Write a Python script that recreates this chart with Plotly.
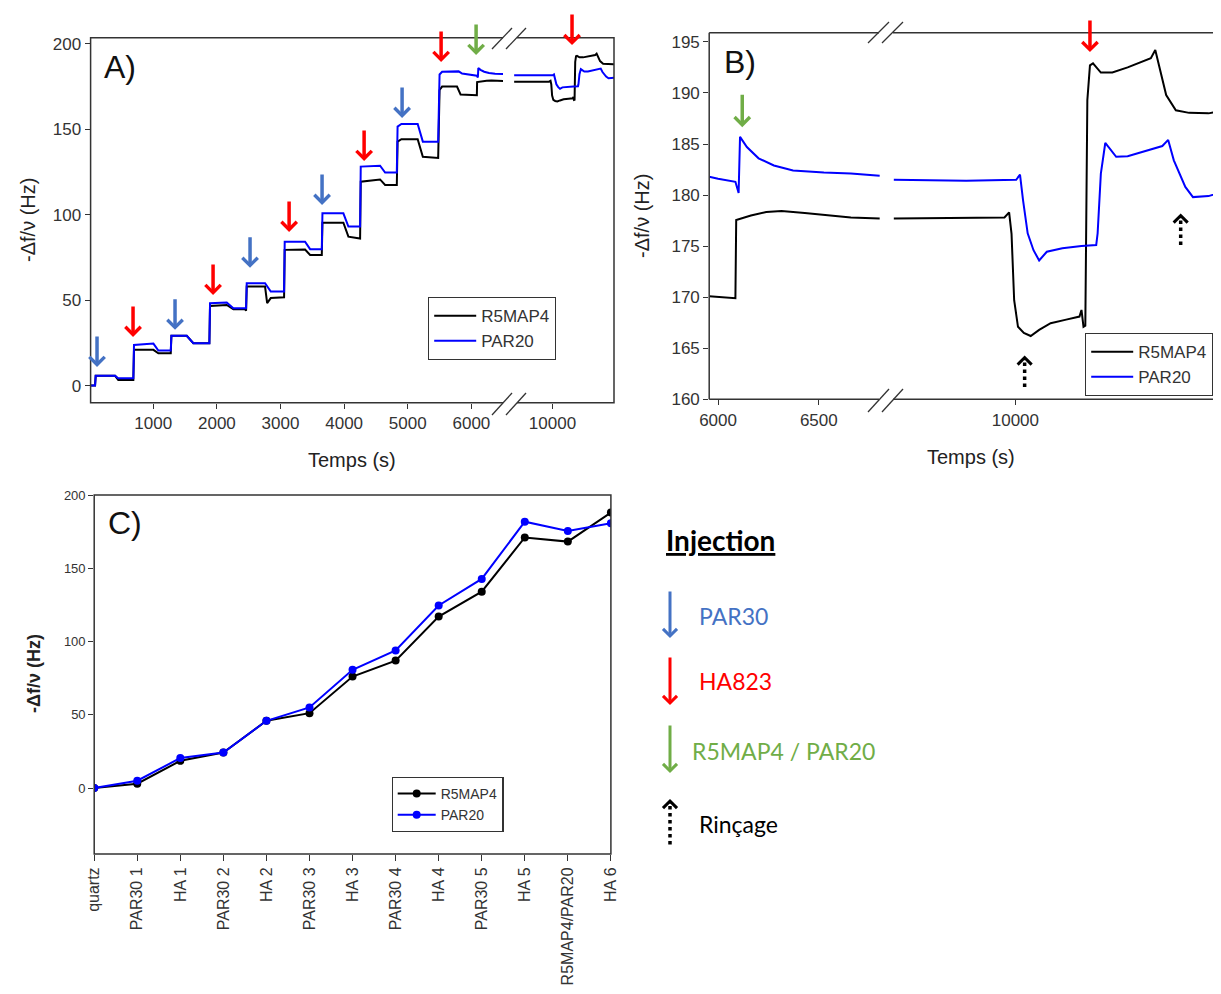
import plotly.graph_objects as go

# ---------------- DATA ----------------
# Panel A, adsorption steps (time in s, -Δf/ν in Hz)
early_t_black = [15, 85, 95, 400, 450, 687, 697, 1002, 1080, 1275, 1285, 1526, 1630, 1882, 1892, 2155, 2259, 2440, 2459, 2469,
                 2757, 2790, 2847, 3056, 3066, 3386, 3465, 3649, 3659, 3988, 4067, 4251, 4261, 4565, 4644, 4828, 4840, 4900,
                 5156, 5237, 5478, 5500, 5540, 5774, 5830, 5950]
early_v_black = [0, 0, 5.7, 5.7, 3.3, 3.3, 20.9, 20.9, 18.9, 18.9, 29.1, 29.1, 24.8, 24.8, 46.6, 47.2, 44.7, 44.7, 43.8, 57.9,
                 57.9, 48.2, 51.2, 51.7, 79.4, 79.6, 76.4, 76.4, 95.3, 95.3, 87.1, 86.0, 119.3, 120.6, 117.4, 117.4, 142.7, 144.1,
                 144.1, 133.9, 133.2, 172.9, 174.9, 174.9, 170.3, 170.2]
early_t_blue = [15, 85, 95, 400, 450, 687, 697, 1002, 1080, 1275, 1285, 1526, 1630, 1882, 1892, 2155, 2259, 2459, 2469, 2757,
                2847, 3056, 3066, 3386, 3465, 3649, 3659, 3988, 4067, 4251, 4261, 4565, 4644, 4828, 4840, 4900, 5156, 5237,
                5478, 5500, 5540, 5800, 5854, 5950]
early_v_blue = [0, 0, 5.7, 5.7, 4.3, 4.3, 23.8, 24.6, 20.5, 20.5, 29.1, 29.1, 24.8, 24.8, 48.2, 48.6, 45.3, 45.3, 59.9, 59.9,
                55.0, 55.0, 84.2, 84.2, 79.8, 79.8, 100.8, 100.8, 93.0, 93.0, 128.1, 128.6, 124.6, 124.6, 151.5, 153.0, 153.0, 142.7,
                142.7, 182.0, 183.6, 183.8, 182.5, 181.9]

# R5MAP4 / PAR20 injection (6000-6800 s)
inj_t_black = [5956, 6086, 6090, 6163, 6239, 6315, 6430, 6563, 6659, 6802]
inj_v_black = [170.1, 169.9, 177.55, 178.0, 178.35, 178.45, 178.25, 177.95, 177.8, 177.7]
inj_t_blue = [5956, 6000, 6086, 6102, 6109, 6143, 6201, 6277, 6372, 6525, 6659, 6802]
inj_v_blue = [181.8, 181.6, 181.3, 180.2, 185.7, 184.7, 183.6, 182.9, 182.4, 182.2, 182.1, 181.9]

# late part (after the axis break)
late_t_black = [9397, 9946, 9969, 9981, 9994, 10013, 10042, 10076, 10118, 10175, 10252, 10318, 10328, 10338, 10347, 10357,
                10370, 10385, 10424, 10481, 10557, 10672, 10694, 10719, 10748, 10796, 10862, 10958, 11030]
late_v_black = [177.7, 177.8, 178.3, 176.2, 169.7, 167.1, 166.5, 166.2, 166.8, 167.45, 167.8, 168.1, 168.75, 167.1, 167.2, 189.3,
                192.7, 192.9, 192.0, 192.0, 192.5, 193.4, 194.2, 192.2, 189.8, 188.3, 188.05, 188.0, 188.25]
late_t_blue = [9397, 9756, 10004, 10023, 10038, 10061, 10090, 10118, 10156, 10233, 10328, 10401, 10408, 10424, 10446, 10462,
               10500, 10557, 10634, 10729, 10758, 10786, 10843, 10881, 10958, 11030]
late_v_blue = [181.5, 181.4, 181.5, 182.0, 179.5, 176.25, 174.6, 173.6, 174.45, 174.8, 175.0, 175.1, 176.25, 182.1, 185.1, 184.7,
               183.75, 183.8, 184.25, 184.8, 185.4, 183.4, 180.8, 179.8, 179.9, 180.3]

# Panel C
c_categories = ["quartz", "PAR30 1", "HA 1", "PAR30 2", "HA 2", "PAR30 3", "HA 3", "PAR30 4", "HA 4", "PAR30 5", "HA 5",
                "R5MAP4/PAR20", "HA 6"]
c_black = [0, 3, 18.6, 24.3, 45.9, 51.1, 76.1, 87, 117, 134, 171, 168.2, 188]
c_blue = [0, 5, 20.5, 24.3, 45.9, 55, 80.7, 93.9, 124.6, 142.7, 181.8, 175.5, 180.7]

# injection arrows in panel A (time, tip value)
a_par30_t = [116, 1342, 2521, 3653, 4911]
a_par30_y = [10.9, 32.6, 68.9, 105.7, 156.6]
a_ha_t = [682, 1940, 3135, 4314, 5524]
a_ha_y = [28.5, 53, 89.9, 131.4, 189.3]
a_ha_late_t = [10307]
a_ha_late_y = [199.2]
a_r5_t = [6074]
a_r5_y = [193.4]
# panel B arrows
b_r5_t, b_r5_y = [6120], [186.65]
b_ha_t, b_ha_y = [10370], [194.0]
b_rinse_t = [10046, 10820]
b_rinse_y = [164.3, 178.2]

# ---------------- STYLE ----------------
W, H = 1221, 994
OFF = 8  # page body margin of the html document
def X(px): return (px - OFF) / W
def Y(py): return 1 - (py - OFF) / H

FONT = "Arial, 'Liberation Sans', sans-serif"
BLACK = "#000000"
BLUE = "#0000FF"
C_PAR30 = "#4472C4"
C_HA = "#FF0000"
C_R5 = "#70AD47"
AX = "#333333"

fig = go.Figure()

def line(x, y, xa, ya, color, name, legend, show):
    fig.add_trace(go.Scatter(x=x, y=y, xaxis=xa, yaxis=ya, mode="lines", name=name,
                             line=dict(color=color, width=2), legend=legend, showlegend=show))

# Panel A
line(early_t_black + inj_t_black, early_v_black + inj_v_black, "x", "y", BLACK, "R5MAP4", "legend", True)
line(early_t_blue + inj_t_blue, early_v_blue + inj_v_blue, "x", "y", BLUE, "PAR20", "legend", True)
line(late_t_black, late_v_black, "x2", "y", BLACK, "R5MAP4", "legend", False)
line(late_t_blue, late_v_blue, "x2", "y", BLUE, "PAR20", "legend", False)
# Panel B
line(inj_t_black, inj_v_black, "x3", "y2", BLACK, "R5MAP4", "legend2", True)
line(inj_t_blue, inj_v_blue, "x3", "y2", BLUE, "PAR20", "legend2", True)
line(late_t_black, late_v_black, "x4", "y2", BLACK, "R5MAP4", "legend2", False)
line(late_t_blue, late_v_blue, "x4", "y2", BLUE, "PAR20", "legend2", False)
# Panel C
fig.add_trace(go.Scatter(x=c_categories, y=c_black, xaxis="x5", yaxis="y3", mode="lines+markers", name="R5MAP4",
                         line=dict(color=BLACK, width=2), marker=dict(color=BLACK, size=8), legend="legend3"))
fig.add_trace(go.Scatter(x=c_categories, y=c_blue, xaxis="x5", yaxis="y3", mode="lines+markers", name="PAR20",
                         line=dict(color=BLUE, width=2), marker=dict(color=BLUE, size=8), legend="legend3"))

common = dict(showgrid=False, zeroline=False, showline=False, automargin=False, ticks="outside", ticklen=5,
              tickwidth=1.2, tickcolor=AX, tickformat="d", tickfont=dict(family=FONT, size=17, color=AX))

fig.update_layout(
    width=W, height=H, margin=dict(l=0, r=0, t=0, b=0, pad=0, autoexpand=False),
    paper_bgcolor="white", plot_bgcolor="white",
    xaxis=dict(domain=[X(90.6), X(503)], range=[15, 6497], anchor="y",
               tickvals=[1000, 2000, 3000, 4000, 5000, 6000], **common),
    xaxis2=dict(domain=[X(509), X(614)], range=[9316, 10967], anchor="y", tickvals=[10000], **common),
    yaxis=dict(domain=[Y(402.7), Y(37.7)], range=[-10, 203.5], anchor="x",
               tickvals=[0, 50, 100, 150, 200], **common),
    xaxis3=dict(domain=[X(709.2), X(880)], range=[5956, 6803.6], anchor="y2", tickvals=[6000, 6500], **common),
    xaxis4=dict(domain=[X(893), 1.0], range=[9393, 11020 + OFF / 0.2016], anchor="y2", tickvals=[10000], **common),
    yaxis2=dict(domain=[Y(399.3), Y(32.7)], range=[160, 195.9], anchor="x3",
                tickvals=[160, 165, 170, 175, 180, 185, 190, 195], **common),
    xaxis5=dict(domain=[X(94.2), X(610.9)], type="category", range=[0, 12], anchor="y3", tickangle=-90,
                showgrid=False, zeroline=False, showline=False, automargin=False, ticks="outside", ticklen=6,
                tickwidth=1.2, tickcolor=AX, tickfont=dict(family=FONT, size=16, color=AX)),
    yaxis3=dict(domain=[Y(854), Y(495)], range=[-45, 200], anchor="x5", tickvals=[0, 50, 100, 150, 200],
                showgrid=False, zeroline=False, showline=False, automargin=False, ticks="outside", ticklen=5,
                tickwidth=1.2, tickcolor=AX, tickfont=dict(family=FONT, size=13, color=AX)),
    legend=dict(x=X(428), y=Y(297), xanchor="left", yanchor="top", bordercolor=AX, borderwidth=1.2,
                bgcolor="white", font=dict(family=FONT, size=17, color=AX), tracegroupgap=0, itemwidth=42),
    legend2=dict(x=X(1085), y=Y(333), xanchor="left", yanchor="top", bordercolor=AX, borderwidth=1.2,
                 bgcolor="white", font=dict(family=FONT, size=17, color=AX), tracegroupgap=0, itemwidth=42),
    legend3=dict(x=X(391.5), y=Y(776.7), xanchor="left", yanchor="top", bordercolor=AX, borderwidth=1.2,
                 bgcolor="white", font=dict(family=FONT, size=14, color=AX), tracegroupgap=0, itemwidth=38),
)

shapes = []
def pline(x0, y0, x1, y1, color=AX, width=1.5, dash="solid"):
    shapes.append(dict(type="line", xref="paper", yref="paper", x0=X(x0), y0=Y(y0), x1=X(x1), y1=Y(y1),
                       line=dict(color=color, width=width, dash=dash)))

# frames
shapes.append(dict(type="rect", xref="paper", yref="paper", x0=X(90.6), y0=Y(402.7), x1=X(614), y1=Y(37.7),
                   line=dict(color=AX, width=1.5)))
pline(709.2, 32.7, 1240, 32.7)
pline(709.2, 399.3, 1240, 399.3)
pline(709.2, 32.7, 709.2, 399.3)
shapes.append(dict(type="rect", xref="paper", yref="paper", x0=X(94.2), y0=Y(854), x1=X(610.9), y1=Y(495),
                   line=dict(color=AX, width=1.5)))
# axis breaks
for (xa, ytop, ybot, yf) in [(492, 28, 49, 37.7), (492, 393, 415, 402.7)]:
    pline(xa + 11, yf, xa + 25, yf, color="white", width=3)
    pline(xa, ybot, xa + 20, ytop, width=1.3)
    pline(xa + 14, ybot, xa + 34, ytop, width=1.3)
for (xa, ytop, ybot, yf) in [(868, 22, 43, 32.7), (868, 389, 412, 399.3)]:
    pline(xa + 11, yf, xa + 25, yf, color="white", width=3)
    pline(xa, ybot, xa + 21, ytop, width=1.3)
    pline(xa + 14, ybot, xa + 35, ytop, width=1.3)

annotations = []
def arrow(x, y, xref, yref, color, ay=-32, width=3.5, size=0.85):
    annotations.append(dict(x=x, y=y, xref=xref, yref=yref, ax=0, ay=ay, axref="pixel", ayref="pixel",
                            text="", showarrow=True, arrowhead=4, arrowsize=size, arrowwidth=width,
                            arrowcolor=color, standoff=0))

for t, v in zip(a_par30_t, a_par30_y):
    arrow(t, v, "x", "y", C_PAR30)
for t, v in zip(a_ha_t, a_ha_y):
    arrow(t, v, "x", "y", C_HA)
for t, v in zip(a_ha_late_t, a_ha_late_y):
    arrow(t, v, "x2", "y", C_HA)
for t, v in zip(a_r5_t, a_r5_y):
    arrow(t, v, "x", "y", C_R5)
for t, v in zip(b_r5_t, b_r5_y):
    arrow(t, v, "x3", "y2", C_R5, ay=-34)
for t, v in zip(b_ha_t, b_ha_y):
    arrow(t, v, "x4", "y2", C_HA, ay=-33)
for t, v in zip(b_rinse_t, b_rinse_y):
    arrow(t, v, "x4", "y2", BLACK, ay=6, width=3, size=0.9)
    shapes.append(dict(type="line", xref="x4", yref="y2", xsizemode="pixel", ysizemode="pixel",
                       xanchor=t, yanchor=v, x0=0, x1=0, y0=-7, y1=-33,
                       line=dict(color=BLACK, width=3.5, dash="dot")))

# legend panel arrows
arrow(X(670), Y(638), "paper", "paper", C_PAR30, ay=-48, width=3, size=0.9)
arrow(X(670), Y(705), "paper", "paper", C_HA, ay=-49, width=3, size=0.9)
arrow(X(670), Y(773), "paper", "paper", C_R5, ay=-49, width=3, size=0.9)
arrow(X(670), Y(799), "paper", "paper", BLACK, ay=6, width=3, size=0.9)
pline(670, 806, 670, 848, color=BLACK, width=3.5, dash="dot")

def text(x, y, s, size, color="#222", anchor="left", angle=0, family=FONT):
    annotations.append(dict(x=X(x), y=Y(y), xref="paper", yref="paper", text=s, showarrow=False,
                            xanchor=anchor, yanchor="middle", textangle=angle,
                            font=dict(family=family, size=size, color=color)))

text(102, 67, "A)", 32, "#111")
text(722, 62, "B)", 32, "#111")
text(106, 523, "C)", 32, "#111")
text(352, 460, "Temps (s)", 20, "#222", "center")
text(971, 457, "Temps (s)", 20, "#222", "center")
text(28, 220, "-Δf/ν (Hz)", 20, "#222", "center", -90)
text(642, 216, "-Δf/ν (Hz)", 20, "#222", "center", -90)
text(34, 674, "<b>-Δf/ν (Hz)</b>", 18, "#222", "center", -90)

LEG = "Lato, 'Open Sans', sans-serif"
text(664, 540, "<b><u>Injection</u></b>", 28, "#000", family=LEG)
text(697, 616, "PAR30", 23, C_PAR30, family=LEG)
text(697, 681, "HA823", 23, C_HA, family=LEG)
text(690, 751, "R5MAP4 / PAR20", 23, C_R5, family=LEG)
text(697, 824, "Rinçage", 23, "#000", family=LEG)

fig.update_layout(shapes=shapes, annotations=annotations)
fig.write_html("out.html")
